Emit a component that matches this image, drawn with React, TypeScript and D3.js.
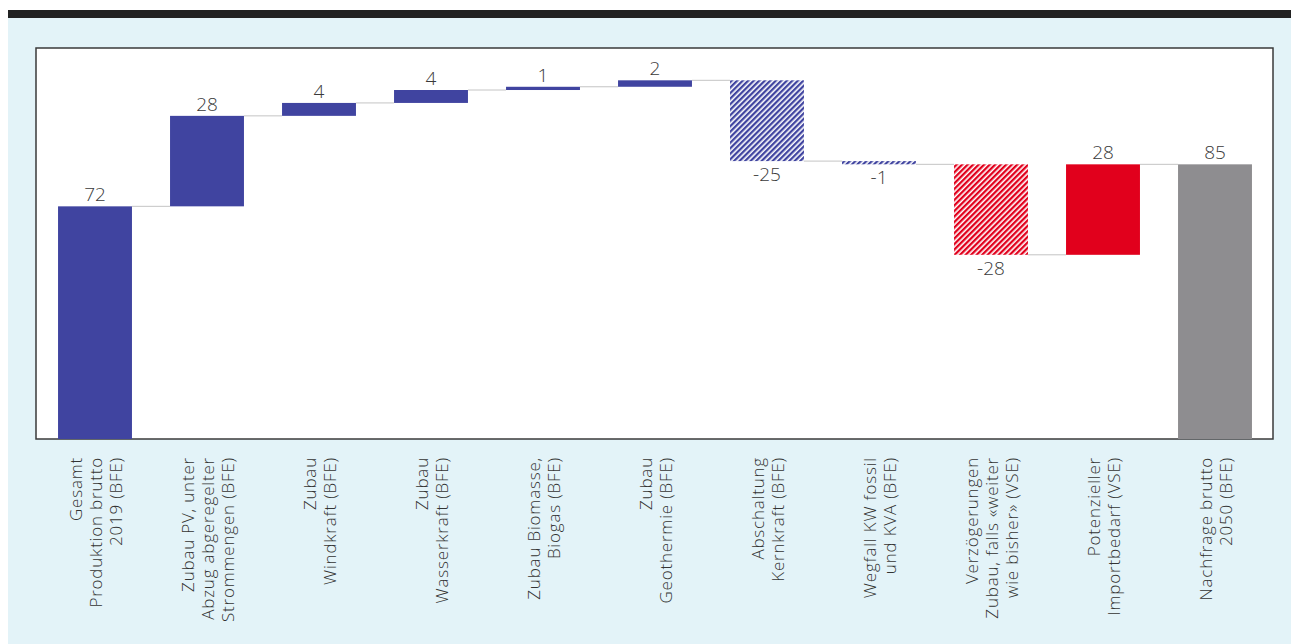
import React from 'react';
import * as d3 from 'd3';

// Waterfall: Stromproduktion 2019 -> Nachfrage 2050 (TWh)
const categories: string[][] = [
  ['Gesamt', 'Produktion brutto', '2019 (BFE)'],
  ['Zubau PV, unter', 'Abzug abgeregelter', 'Strommengen (BFE)'],
  ['Zubau', 'Windkraft (BFE)'],
  ['Zubau', 'Wasserkraft (BFE)'],
  ['Zubau Biomasse,', 'Biogas (BFE)'],
  ['Zubau', 'Geothermie (BFE)'],
  ['Abschaltung', 'Kernkraft (BFE)'],
  ['Wegfall KW fossil', 'und KVA (BFE)'],
  ['Verzögerungen', 'Zubau, falls «weiter', 'wie bisher» (VSE)'],
  ['Potenzieller', 'Importbedarf (VSE)'],
  ['Nachfrage brutto', '2050 (BFE)'],
];

const values: number[] = [72, 28, 4, 4, 1, 2, -25, -1, -28, 28, 85];

// start / gain / loss / delay / import / end
const barTypes: string[] = [
  'start', 'gain', 'gain', 'gain', 'gain', 'gain',
  'loss', 'loss', 'delay', 'import', 'end',
];

const yDomain: [number, number] = [0, 121];

const W = 1291;
const H = 644;
const box = { left: 36, right: 1273, top: 48, bottom: 439 };

const BLUE = '#4044a0';
const RED = '#e1001c';
const GREY = '#8e8d90';

const fills: Record<string, string> = {
  start: BLUE,
  gain: BLUE,
  loss: 'url(#hatch-blue)',
  delay: 'url(#hatch-red)',
  import: RED,
  end: GREY,
};

interface Step {
  key: string;
  lines: string[];
  value: number;
  type: string;
  from: number;
  to: number;
}

export default function App() {
  // running totals
  const steps: Step[] = [];
  let running = 0;
  values.forEach((v, i) => {
    const t = barTypes[i];
    if (t === 'start' || t === 'end') {
      running = v;
      steps.push({ key: String(i), lines: categories[i], value: v, type: t, from: 0, to: v });
    } else {
      const from = running;
      running += v;
      steps.push({ key: String(i), lines: categories[i], value: v, type: t, from, to: running });
    }
  });

  const x = d3.scaleBand<string>()
    .domain(steps.map(s => s.key))
    .range([39, 1271])
    .paddingInner(0.34)
    .paddingOuter(0.17);

  const y = d3.scaleLinear().domain(yDomain).range([box.bottom, box.top]);
  const bw = x.bandwidth();
  const font = '"Open Sans", "DejaVu Sans", sans-serif';

  return (
    <svg width={W} height={H} style={{ position: 'fixed', left: 0, top: 0, display: 'block' }}>
      <defs>
        <pattern id="hatch-blue" width={3.9} height={3.9} patternUnits="userSpaceOnUse" patternTransform="rotate(45)">
          <rect width={3.9} height={3.9} fill="#ffffff" />
          <rect width={2.3} height={3.9} fill={BLUE} />
        </pattern>
        <pattern id="hatch-red" width={3.9} height={3.9} patternUnits="userSpaceOnUse" patternTransform="rotate(45)">
          <rect width={3.9} height={3.9} fill="#ffffff" />
          <rect width={2.3} height={3.9} fill={RED} />
        </pattern>
      </defs>

      <rect x={0} y={0} width={W} height={H} fill="#ffffff" />
      <rect x={8} y={18} width={W - 8} height={H - 18} fill="#e3f3f8" />
      <rect x={8} y={10} width={W - 8} height={8} fill="#222222" />

      <rect
        x={box.left}
        y={box.top}
        width={box.right - box.left}
        height={box.bottom - box.top}
        fill="#ffffff"
        stroke="#3a3a3a"
        strokeWidth={1.5}
      />

      {/* connectors */}
      {steps.slice(0, -1).map((s, i) => {
        const next = steps[i + 1];
        const x1 = (x(s.key) ?? 0) + bw;
        const x2 = x(next.key) ?? 0;
        return (
          <line key={'c' + s.key} x1={x1} x2={x2} y1={y(s.to)} y2={y(s.to)} stroke="#c4c4c4" strokeWidth={1} />
        );
      })}

      {/* bars */}
      {steps.map(s => {
        const top = y(Math.max(s.from, s.to));
        const bottom = y(Math.min(s.from, s.to));
        return (
          <rect
            key={'b' + s.key}
            x={x(s.key)}
            y={top}
            width={bw}
            height={bottom - top}
            fill={fills[s.type]}
          />
        );
      })}

      {/* value labels */}
      {steps.map(s => {
        const cx = (x(s.key) ?? 0) + bw / 2;
        const neg = s.value < 0;
        const ly = neg ? y(Math.min(s.from, s.to)) + 20 : y(Math.max(s.from, s.to)) - 5;
        return (
          <text
            key={'v' + s.key}
            x={cx}
            y={ly}
            textAnchor="middle"
            fontFamily={font}
            fontWeight={300}
            fontSize={19}
            fill="#3a3a3a"
          >
            {s.value}
          </text>
        );
      })}

      {/* category labels */}
      {steps.map(s => {
        const cx = (x(s.key) ?? 0) + bw / 2;
        const n = s.lines.length;
        return (
          <g key={'l' + s.key} transform={`translate(${cx},457) rotate(-90)`}>
            {s.lines.map((ln, j) => (
              <text
                key={j}
                x={0}
                y={(j - (n - 1) / 2) * 20}
                dominantBaseline="central"
                textAnchor="end"
                fontFamily={font}
                fontWeight={300}
                fontSize={17}
                letterSpacing={0.8}
                fill="#333333"
              >
                {ln}
              </text>
            ))}
          </g>
        );
      })}
    </svg>
  );
}
